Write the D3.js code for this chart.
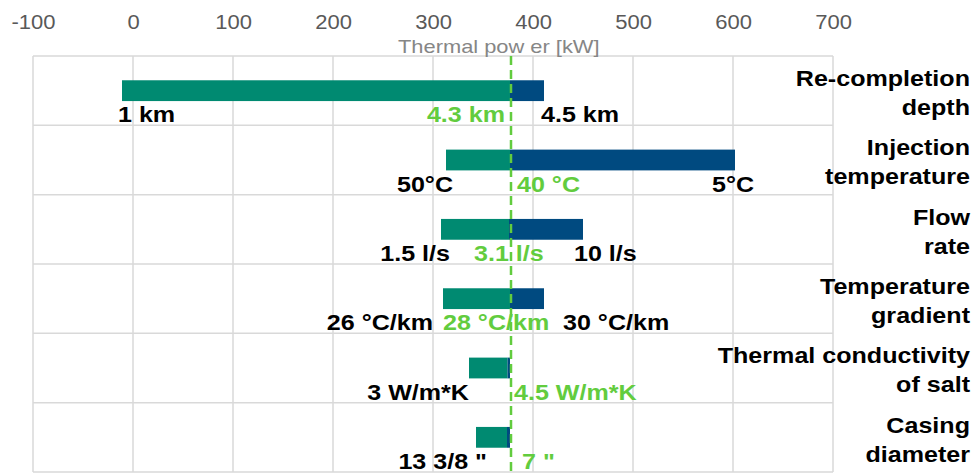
<!DOCTYPE html>
<html lang="en">
<head>
<meta charset="utf-8">
<title>Thermal power sensitivity</title>
<script src="https://cdnjs.cloudflare.com/ajax/libs/d3/7.8.5/d3.min.js"></script>
<style>
  body { margin: 0; background: #fff; }
  text { font-family: "Liberation Sans", Arial, sans-serif; }
  .grid { stroke: #d9d9d9; stroke-width: 1.5; }
  .tick text { fill: #595959; font-size: 20px; }
  .lab { font-size: 22px; font-weight: bold; }
</style>
</head>
<body>
<svg id="chart" width="975" height="473"></svg>
<script>
// parameters (top to bottom)
const categories = [
  ["Re-completion", "depth"],
  ["Injection", "temperature"],
  ["Flow", "rate"],
  ["Temperature", "gradient"],
  ["Thermal conductivity", "of salt"],
  ["Casing", "diameter"]
];
// thermal power [kW] at low / base / high setting
const lowValues  = [-11, 313, 308, 310, 336, 343];
const baseValues = [377, 377, 376, 377, 374.5, 374];
const highValues = [411, 602, 450, 411, 377, 377];
const referencePower = 378;

const lowLabels  = ["1 km", "50°C", "1.5 l/s", "26 °C/km", "3 W/m*K", "13 3/8 \""];
const baseLabels = ["4.3 km", "40 °C", "3.1 l/s", "28 °C/km", "4.5 W/m*K", "7 \""];
const highLabels = ["4.5 km", "5°C", "10 l/s", "30 °C/km", "", ""];

const tickValues = [-100, 0, 100, 200, 300, 400, 500, 600, 700];
const axisTitle = "Thermal pow er [kW]";

const svg = d3.select("#chart");
const x = d3.scaleLinear().domain([-100, 700]).range([33, 833]);
const y = d3.scaleBand().domain(d3.range(categories.length)).range([56, 472]);

const green = "#008a71", blue = "#004a80", light = "#62cc3e";

// glyphs in the original are a bit wider than tall
function stretch(sel, k) {
  sel.each(function () {
    const w = this.getComputedTextLength();
    if (w > 0) d3.select(this).attr("textLength", w * k).attr("lengthAdjust", "spacingAndGlyphs");
  });
}

// gridlines
svg.append("g").selectAll("line").data(tickValues).join("line")
  .attr("class", "grid")
  .attr("x1", d => x(d)).attr("x2", d => x(d))
  .attr("y1", y.range()[0]).attr("y2", y.range()[1]);
svg.append("g").selectAll("line").data(d3.range(categories.length + 1)).join("line")
  .attr("class", "grid")
  .attr("x1", x(-100)).attr("x2", x(700))
  .attr("y1", i => i < categories.length ? y(i) : y.range()[1])
  .attr("y2", i => i < categories.length ? y(i) : y.range()[1]);

// top axis
const axis = svg.append("g")
  .attr("transform", "translate(0,29)")
  .call(d3.axisTop(x).tickValues(tickValues).tickSize(0).tickPadding(0).tickFormat(d => String(d)));
axis.select(".domain").remove();
axis.selectAll(".tick text").attr("font-family", null);
stretch(axis.selectAll(".tick text"), 1.1);

svg.append("text")
  .attr("x", 398).attr("y", 53)
  .attr("fill", "#868686").attr("font-size", 19)
  .text(axisTitle)
  .call(stretch, 1.15);

// bars
const barH = y.bandwidth() * 0.3;
const rows = svg.append("g").selectAll("g").data(d3.range(categories.length)).join("g")
  .attr("transform", i => `translate(0,${y(i) + (y.bandwidth() - barH) / 2})`);
rows.append("rect")
  .attr("x", i => x(lowValues[i]))
  .attr("width", i => x(baseValues[i]) - x(lowValues[i]))
  .attr("height", barH).attr("fill", green);
rows.append("rect")
  .attr("x", i => x(baseValues[i]))
  .attr("width", i => x(highValues[i]) - x(baseValues[i]))
  .attr("height", barH).attr("fill", blue);

// value labels: [kW position, anchor] for low / base / high text
const lowPos  = [[-15, "start"], [320, "end"], [317, "end"], [300, "end"], [336, "end"], [354, "end"]];
const basePos = [[372, "end"], [384, "start"], [341, "start"], [310, "start"], [381, "start"], [389, "start"]];
const highPos = [[408, "start"], [579, "start"], [441, "start"], [430, "start"], [0, "start"], [0, "start"]];

function valueLabels(texts, pos, color) {
  svg.append("g").selectAll("text").data(d3.range(categories.length)).join("text")
    .attr("class", "lab")
    .attr("x", i => x(pos[i][0]))
    .attr("y", i => y(i) + y.bandwidth() - 3)
    .attr("text-anchor", i => pos[i][1])
    .attr("fill", color)
    .text(i => texts[i])
    .call(stretch, 1.14);
}
valueLabels(lowLabels, lowPos, "#000");
valueLabels(baseLabels, basePos, light);
valueLabels(highLabels, highPos, "#000");

// category names on the right
const cat = svg.append("g").selectAll("text").data(d3.range(categories.length)).join("text")
  .attr("class", "lab")
  .attr("text-anchor", "end")
  .attr("fill", "#000");
cat.selectAll("tspan").data(i => categories[i].map((t, k) => ({ t, k, i }))).join("tspan")
  .attr("x", 970)
  .attr("y", d => y(d.i) + 30 + d.k * 29)
  .text(d => d.t);
cat.selectAll("tspan").call(stretch, 1.14);

// reference line
svg.append("line")
  .attr("x1", x(referencePower)).attr("x2", x(referencePower))
  .attr("y1", y.range()[0]).attr("y2", y.range()[1])
  .attr("stroke", light).attr("stroke-width", 2.5)
  .attr("stroke-dasharray", "9,5");
</script>
</body>
</html>
